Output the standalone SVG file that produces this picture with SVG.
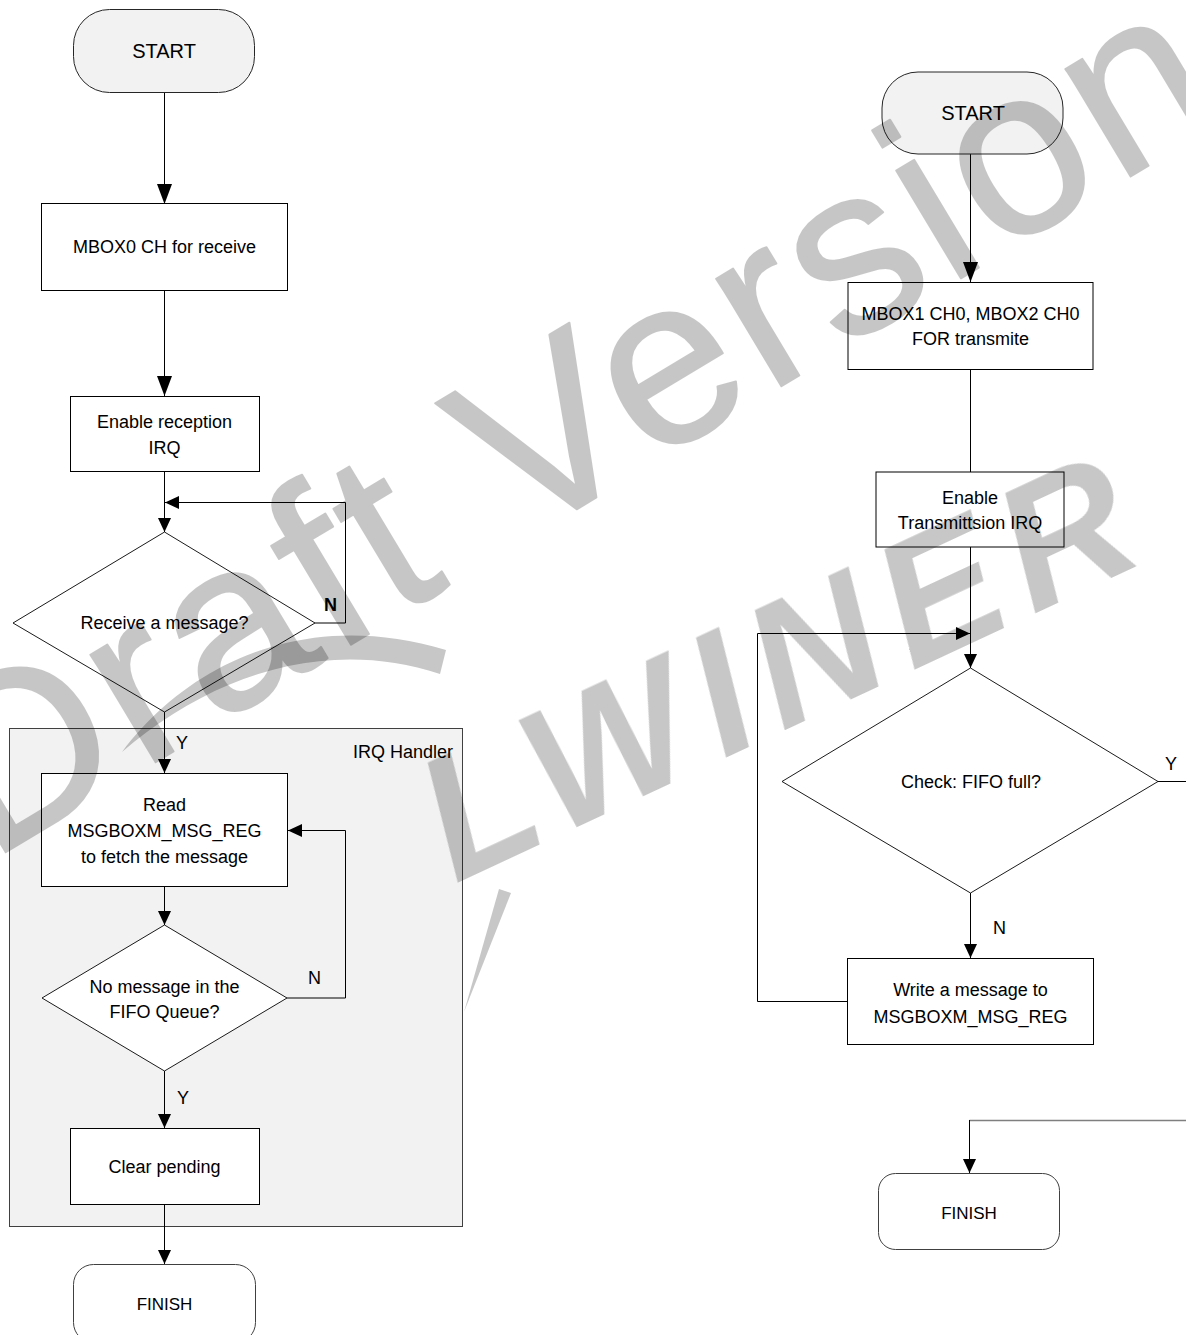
<svg xmlns="http://www.w3.org/2000/svg" width="1186" height="1335" viewBox="0 0 1186 1335">
<defs>
<style>
text{font-family:"Liberation Sans",Arial,sans-serif;fill:#000;}
.t{font-size:18px;text-anchor:middle;}
.tl{font-size:18px;}
.ts{font-size:20px;text-anchor:middle;}
.tf{font-size:17px;text-anchor:middle;}
.box{fill:#fff;stroke:#000;stroke-width:1;}
.term{fill:#f2f2f2;stroke:#262626;stroke-width:1;}
.fin{fill:#fff;stroke:#404040;stroke-width:1;}
.dec{fill:#fff;stroke:#000;stroke-width:0.9;}
.cont{fill:#f2f2f2;stroke:#404040;stroke-width:1;}
.c{fill:none;stroke:#000;stroke-width:1;}
.cl{fill:none;stroke:#000;stroke-width:1;marker-end:url(#aL);}
.cs{fill:none;stroke:#000;stroke-width:1;marker-end:url(#aS);}
</style>
<marker id="aL" markerUnits="userSpaceOnUse" markerWidth="20" markerHeight="15" refX="20" refY="7.5" orient="auto"><path d="M0,0 L20,7.5 L0,15 Z" fill="#000"/></marker>
<marker id="aS" markerUnits="userSpaceOnUse" markerWidth="14" markerHeight="13" refX="14" refY="6.5" orient="auto"><path d="M0,0 L14,6.5 L0,13 Z" fill="#000"/></marker>
</defs>
<rect width="1186" height="1335" fill="#fff"/>

<g id="irq-handler">
<rect class="cont" x="9.5" y="728.5" width="453" height="498"/>
<text class="tl" x="453" y="758" text-anchor="end">IRQ Handler</text>
</g>

<g id="connectors">
<path class="cl" d="M164.5,92 V204"/>
<path class="cl" d="M164.5,290 V396"/>
<path class="cs" d="M164.5,471 V532"/>
<path class="cs" d="M315,623 H345.5 V502.5 H165"/>
<path class="cs" d="M164.5,712 V773"/>
<path class="cs" d="M164.5,887 V925"/>
<path class="cs" d="M287,998 H345.5 V830.5 H288"/>
<path class="cs" d="M164.5,1071 V1128"/>
<path class="cs" d="M164.5,1204 V1264"/>
<path class="cl" d="M970.5,154 V282"/>
<path class="c" d="M970.5,369 V472"/>
<path class="cs" d="M970.5,547 V668"/>
<path class="cs" d="M847,1001.5 H757.5 V633.5 H970"/>
<path class="cs" d="M970.5,893 V958"/>
<path class="c" d="M1158,781.5 H1186"/>
<path d="M1186,1120.5 H969.5" fill="none" stroke="#7f7f7f" stroke-width="1.6"/>
<path class="cs" d="M969.5,1120 V1173"/>
<text class="tl" x="324" y="611" font-weight="bold">N</text>
<text class="tl" x="176" y="749">Y</text>
<text class="tl" x="308" y="984">N</text>
<text class="tl" x="177" y="1104">Y</text>
<text class="tl" x="1165" y="770">Y</text>
<text class="tl" x="993" y="934">N</text>
</g>

<g id="start-left">
<rect class="term" x="73.5" y="9.5" width="181" height="83" rx="36" ry="36"/>
<text class="ts" x="164" y="58">START</text>
</g>
<g id="mbox0">
<rect class="box" x="41.5" y="203.5" width="246" height="87"/>
<text class="t" x="164.5" y="253">MBOX0 CH for receive</text>
</g>
<g id="enable-reception">
<rect class="box" x="70.5" y="396.5" width="189" height="75"/>
<text class="t" x="164.5" y="428">Enable reception</text>
<text class="t" x="164.5" y="454">IRQ</text>
</g>
<g id="receive-decision">
<polygon class="dec" points="164.5,532 315,623 164.5,712 13,623"/>
<text class="t" x="164.5" y="629">Receive a message?</text>
</g>
<g id="read-msg">
<rect class="box" x="41.5" y="773.5" width="246" height="113"/>
<text class="t" x="164.5" y="811">Read</text>
<text class="t" x="164.5" y="837">MSGBOXM_MSG_REG</text>
<text class="t" x="164.5" y="863">to fetch the message</text>
</g>
<g id="fifo-empty-decision">
<polygon class="dec" points="164.5,925 287,998 164.5,1071 42,998"/>
<text class="t" x="164.5" y="993">No message in the</text>
<text class="t" x="164.5" y="1018">FIFO Queue?</text>
</g>
<g id="clear-pending">
<rect class="box" x="70.5" y="1128.5" width="189" height="76"/>
<text class="t" x="164.5" y="1173">Clear pending</text>
</g>
<g id="finish-left">
<rect class="fin" x="73.5" y="1264.5" width="182" height="78" rx="20" ry="20"/>
<text class="tf" x="164.5" y="1310">FINISH</text>
</g>

<g id="start-right">
<rect class="term" x="882" y="72" width="181" height="82" rx="36" ry="36"/>
<text class="ts" x="973" y="120">START</text>
</g>
<g id="mbox1-mbox2">
<rect class="box" x="848" y="282.5" width="245" height="87"/>
<text class="t" x="970.5" y="320">MBOX1 CH0, MBOX2 CH0</text>
<text class="t" x="970.5" y="345">FOR transmite</text>
</g>
<g id="enable-transmission">
<rect class="box" x="876" y="472" width="188" height="75"/>
<text class="t" x="970" y="504">Enable</text>
<text class="t" x="970" y="529">Transmittsion IRQ</text>
</g>
<g id="fifo-full-decision">
<polygon class="dec" points="970.5,668 1158,781.5 970.5,893 782,781.5"/>
<text class="t" x="971" y="788">Check: FIFO full?</text>
</g>
<g id="write-msg">
<rect class="box" x="847.5" y="958.5" width="246" height="86"/>
<text class="t" x="970.5" y="996">Write a message to</text>
<text class="t" x="970.5" y="1023">MSGBOXM_MSG_REG</text>
</g>
<g id="finish-right">
<rect class="fin" x="878.5" y="1173.5" width="181" height="76" rx="17" ry="17"/>
<text class="tf" x="969" y="1219">FINISH</text>
</g>

<g id="watermark">
<g opacity="0.22">
<text x="612" y="488" transform="rotate(-31 612 488)" font-size="238" text-anchor="middle" letter-spacing="6" stroke="#000" stroke-width="2" stroke-linejoin="round">Draft Version</text>
</g>
<g opacity="0.22">
<path d="M122,752 C185,668 300,606 446,650 L440,674 C325,636 210,676 122,752 Z" fill="#000"/>
<path d="M499,889 L511,893 L464,1012 Z" fill="#000"/>
<text x="455" y="884" transform="rotate(-25 455 884)" font-size="176" font-weight="bold" font-style="italic" letter-spacing="16">LWINER</text>
</g>
</g>
</svg>
